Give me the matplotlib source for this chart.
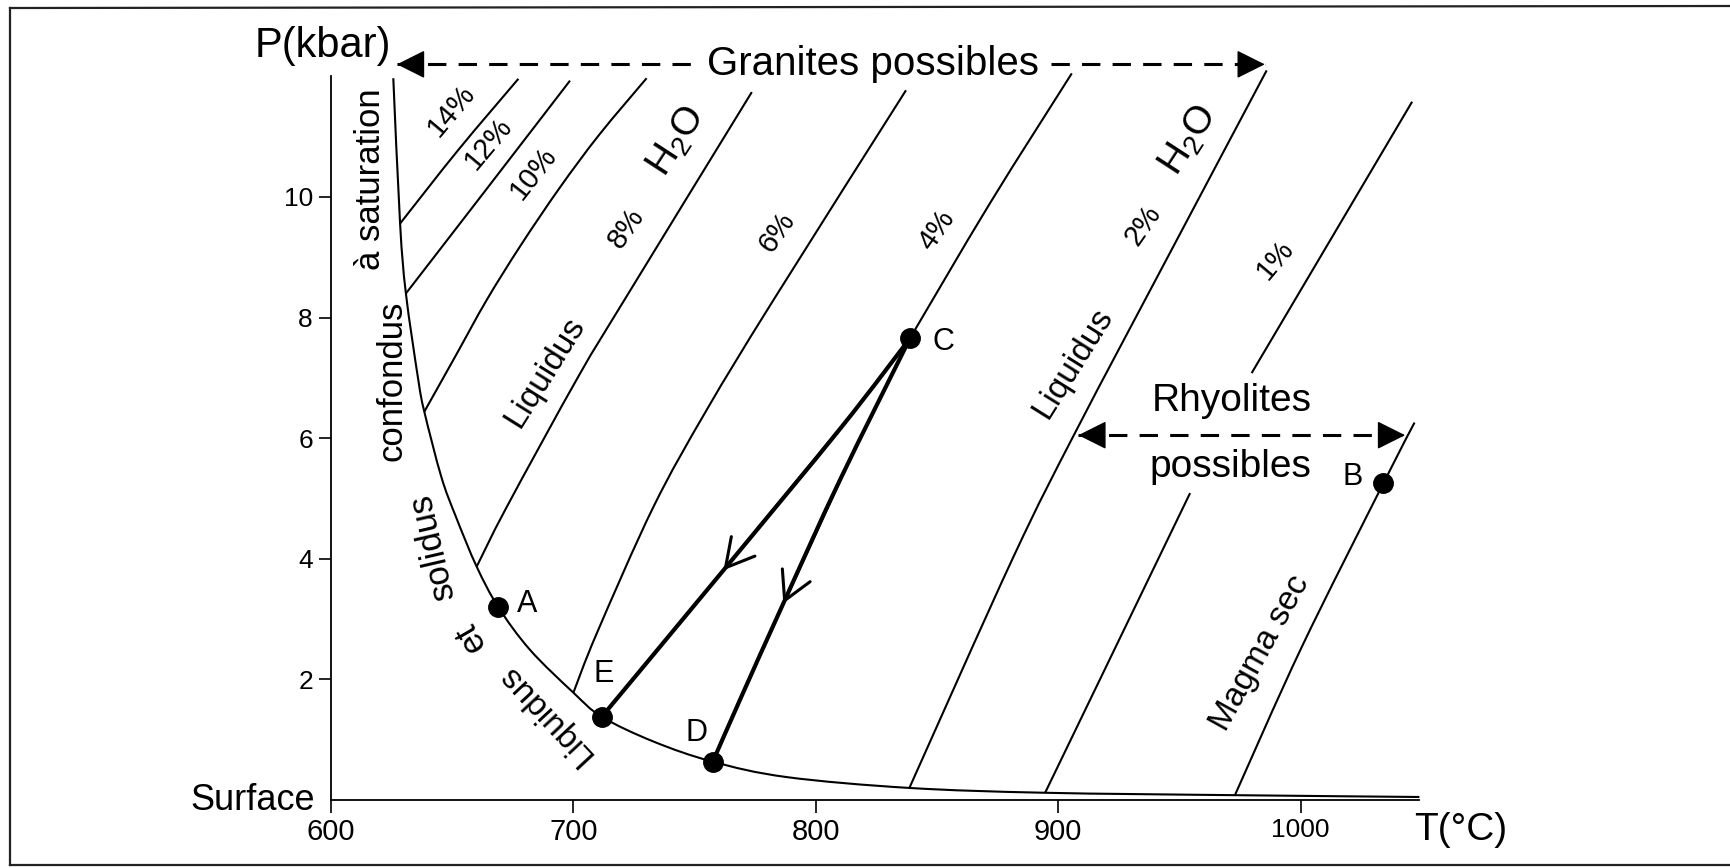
import matplotlib
matplotlib.use("Agg")
import numpy as np
import matplotlib.pyplot as plt
from matplotlib.patches import FancyArrowPatch, PathPatch
from matplotlib.path import Path
from matplotlib.lines import Line2D

plt.rcParams['font.family'] = ['Liberation Sans', 'DejaVu Sans']
plt.rcParams['mathtext.fontset'] = 'custom'
plt.rcParams['mathtext.rm'] = 'Liberation Sans'
plt.rcParams['mathtext.default'] = 'regular'

# ---------------- data (T in °C, P in kbar) ----------------
# water-saturated curve: liquidus and solidus coincide
sat_T = [625.7, 628.5, 630.9, 636.0, 638.5, 645.5, 651.5, 660.1, 669.0, 682.1,
         700.0, 711.7, 733.0, 757.5, 788.0, 838.6, 894.6, 972.9, 1049.0]
sat_P = [11.97, 9.56, 8.40, 6.97, 6.44, 5.36, 4.70, 3.87, 3.20, 2.49,
         1.78, 1.38, 0.97, 0.635, 0.38, 0.20, 0.12, 0.08, 0.05]

# liquidus curves for given water contents
liq14_T = [628.5, 652.5, 677.3]
liq14_P = [9.56, 10.78, 11.96]
liq12_T = [630.9, 662.8, 698.6]
liq12_P = [8.40, 10.06, 11.93]
liq10_T = [638.5, 651.6, 664.2, 678.3, 694.3, 710.6, 730.2]
liq10_P = [6.44, 7.38, 8.29, 9.20, 10.15, 11.03, 11.97]
liq8_T = [660.1, 672.5, 702.0, 721.0, 773.6]
liq8_P = [3.87, 4.86, 7.02, 8.29, 11.74]
liq6_T = [700.0, 709.6, 733.0, 755.0, 782.5, 837.2]
liq6_P = [1.78, 2.76, 4.86, 6.47, 8.29, 11.77]
liq4_T = [838.9, 871.9, 905.6]
liq4_P = [7.66, 9.90, 12.05]
liq2_T = [838.6, 881.5, 907.6, 947.5, 986.0]
liq2_P = [0.20, 4.03, 6.14, 9.18, 12.10]
liq1_low_T = [894.6, 954.4]
liq1_low_P = [0.12, 5.09]
liq1_high_T = [979.8, 1046.0]
liq1_high_P = [7.08, 11.58]
dry_T = [972.9, 1000.5, 1034.1, 1047.0]
dry_P = [0.08, 2.54, 5.25, 6.26]

# ascent paths from C (arrow tip is the 3rd vertex)
path_CE_T = [838.9, 810.5, 761.9, 711.7]
path_CE_P = [7.66, 6.18, 3.81, 1.38]
path_CD_T = [838.9, 810.0, 786.6, 768.7, 757.5]
path_CD_P = [7.66, 5.31, 3.26, 1.66, 0.635]

# named points
pt_names = ['A', 'B', 'C', 'D', 'E']
pt_T = [669.0, 1034.1, 838.9, 757.5, 711.7]
pt_P = [3.20, 5.25, 7.66, 0.635, 1.38]
pt_label_T = [681.0, 1021.3, 852.6, 750.9, 712.3]
pt_label_P = [3.25, 5.36, 7.60, 1.11, 2.09]

# ranges
granite_T = [627.2, 985.2]
granite_P = 12.2
rhyolite_T = [908.3, 1043.1]
rhyolite_P = 6.05

# axes ticks
T_ticks = [600, 700, 800, 900, 1000]
T_tick_labels = ['600', '700', '800', '900', '1000']
P_ticks = [2, 4, 6, 8, 10]
P_tick_labels = ['2', '4', '6', '8', '10']

# ---------------- figure ----------------
W, H = 1730, 868
fig = plt.figure(figsize=(W / 100, H / 100), dpi=100)
fig.patch.set_facecolor('white')

# outer frame
frame_kw = dict(color='#222222', lw=1.6, transform=fig.transFigure)
fig.add_artist(Line2D([10 / W, 10 / W], [1 - 8 / H, 1 - 865 / H], **frame_kw))
fig.add_artist(Line2D([10 / W, 1.0], [1 - 8 / H, 1 - 6 / H], **frame_kw))
fig.add_artist(Line2D([10 / W, 1.0], [1 - 865 / H, 1 - 865 / H], **frame_kw))

ax = fig.add_axes([331 / W, (H - 800) / H, 1088.4 / W, 723.6 / H])
ax.set_xlim(600, 1049)
ax.set_ylim(0, 12)
ax.patch.set_alpha(0)
for s in ('top', 'right'):
    ax.spines[s].set_visible(False)
for s in ('left', 'bottom'):
    ax.spines[s].set_linewidth(1.3)
ax.set_xticks(T_ticks)
ax.set_xticklabels(T_tick_labels, fontsize=21)
ax.set_yticks(P_ticks)
ax.set_yticklabels(P_tick_labels, fontsize=19)
ax.tick_params(axis='x', direction='out', length=9, width=1.2, pad=4)
ax.tick_params(axis='y', direction='out', length=9, width=1.2, pad=4)
ax.get_xticklabels()[-1].set_fontsize(19)


def smooth(Ts, Ps):
    """Cubic Bezier path passing through every (T, P) vertex."""
    pts = np.column_stack([Ts, Ps]).astype(float)
    n = len(pts)
    if n < 3:
        return Path(pts)
    verts = [pts[0]]
    codes = [Path.MOVETO]
    for i in range(n - 1):
        p0 = pts[i - 1] if i > 0 else pts[i]
        p1, p2 = pts[i], pts[i + 1]
        p3 = pts[i + 2] if i + 2 < n else pts[i + 1]
        verts += [p1 + (p2 - p0) / 6.0, p2 - (p3 - p1) / 6.0, p2]
        codes += [Path.CURVE4] * 3
    return Path(verts, codes)


def curve(Ts, Ps, lw, cap='butt'):
    ax.add_patch(PathPatch(smooth(Ts, Ps), fill=False, edgecolor='black',
                           lw=lw, capstyle=cap, clip_on=False))


curve(sat_T, sat_P, 1.5)
for Ts, Ps in [(liq14_T, liq14_P), (liq12_T, liq12_P), (liq10_T, liq10_P),
               (liq8_T, liq8_P), (liq6_T, liq6_P), (liq4_T, liq4_P),
               (liq2_T, liq2_P), (liq1_low_T, liq1_low_P),
               (liq1_high_T, liq1_high_P), (dry_T, dry_P)]:
    curve(Ts, Ps, 1.5)

curve(path_CE_T, path_CE_P, 3.0, 'round')
curve(path_CD_T, path_CD_P, 3.0, 'round')

# open arrowheads along the ascent paths
for Ts, Ps in [(path_CE_T, path_CE_P), (path_CD_T, path_CD_P)]:
    ax.add_patch(FancyArrowPatch((Ts[1], Ps[1]), (Ts[2], Ps[2]),
                                 arrowstyle='->,head_length=20,head_width=11',
                                 mutation_scale=1, lw=2.2, color='black',
                                 shrinkA=0, shrinkB=0, clip_on=False))

ax.plot(pt_T, pt_P, 'o', color='black', ms=14, clip_on=False, zorder=5)
for name, tx, py in zip(pt_names, pt_label_T, pt_label_P):
    ax.text(tx, py, name, fontsize=22, ha='center', va='center', clip_on=False)


def head(tip_T, back_T, P):
    ax.add_patch(FancyArrowPatch((back_T, P), (tip_T, P),
                                 arrowstyle='-|>,head_length=18,head_width=9',
                                 mutation_scale=1, lw=1.0, color='black',
                                 shrinkA=0, shrinkB=0, clip_on=False))


dash = dict(color='black', lw=2.2, ls=(0, (6, 4)), clip_on=False)
# granite range with its label inside the dashed line
ax.plot([granite_T[0], 751], [granite_P, granite_P], **dash)
ax.plot([897, granite_T[1]], [granite_P, granite_P], **dash)
head(granite_T[0], granite_T[0] + 2, granite_P)
head(granite_T[1], granite_T[1] - 2, granite_P)
ax.text(823.6, granite_P, 'Granites possibles', fontsize=29, ha='center',
        va='center', clip_on=False)

# rhyolite range
ax.plot(rhyolite_T, [rhyolite_P, rhyolite_P], **dash)
head(rhyolite_T[0], rhyolite_T[0] + 2, rhyolite_P)
head(rhyolite_T[1], rhyolite_T[1] - 2, rhyolite_P)
ax.text(971.6, 6.61, 'Rhyolites', fontsize=28, ha='center', va='center')
ax.text(970.9, 5.53, 'possibles', fontsize=28, ha='center', va='center')


def lab(T, P, s, size, rot):
    ax.text(T, P, s, fontsize=size, rotation=rot, rotation_mode='anchor',
            ha='center', va='center', clip_on=False)


# water contents
lab(649.8, 11.44, '14%', 21, 50)
lab(664.9, 10.89, '12%', 21, 50)
lab(683.5, 10.39, '10%', 21, 52)
lab(722.0, 9.48, '8%', 21, 55)
lab(742.6, 10.92, r'H$_2$O', 28, 57)
lab(783.9, 9.42, '6%', 21, 55)
lab(849.9, 9.45, '4%', 21, 55)
lab(935.1, 9.54, '2%', 21, 55)
lab(953.7, 10.94, r'H$_2$O', 28, 57)
lab(989.4, 8.96, '1%', 21, 50)
lab(688.3, 7.10, 'Liquidus', 24, 58)
lab(906.2, 7.24, 'Liquidus', 24, 58)
lab(983.3, 2.43, 'Magma sec', 24, 61)

# text running along the saturation curve
lab(616.1, 10.30, 'à saturation', 25, 90)
lab(625.2, 6.95, 'confondus', 25, 90)
lab(641.7, 4.21, 'solidus', 25, 103)
lab(657.3, 2.70, 'et', 25, 120)
lab(688.3, 1.43, 'Liquidus', 24, 133)

# axis titles
ax.text(596.7, 12.5, 'P(kbar)', fontsize=30, ha='center', va='center', clip_on=False)
ax.text(1066.0, -0.5, 'T(°C)', fontsize=28, ha='center', va='center', clip_on=False)
ax.text(593.4, 0.0, 'Surface', fontsize=26, ha='right', va='center', clip_on=False)

fig.savefig('out.png', dpi=100, facecolor='white')
